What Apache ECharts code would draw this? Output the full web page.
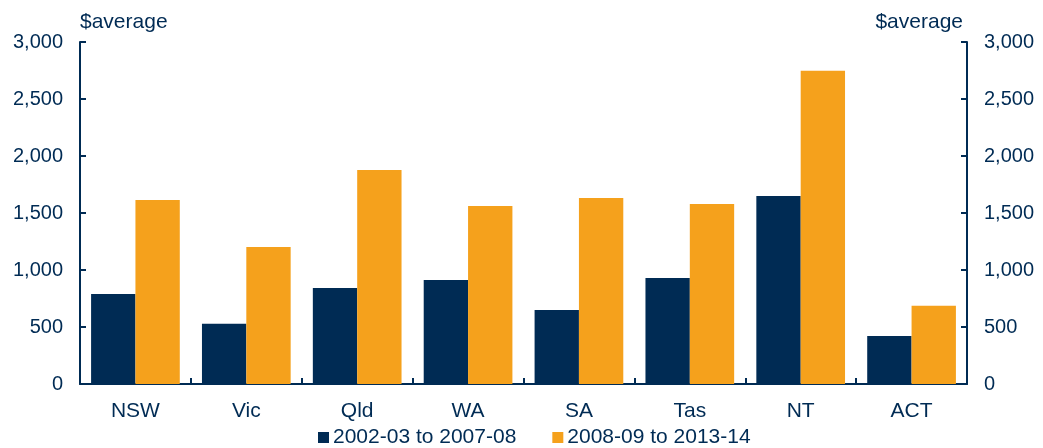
<!DOCTYPE html>
<html>
<head>
<meta charset="utf-8">
<script src="https://cdn.jsdelivr.net/npm/echarts@6/dist/echarts.min.js"></script>
<style>
  html, body { margin: 0; padding: 0; background: #fff; }
  #chart { width: 1043px; height: 448px; }
</style>
</head>
<body>
<div id="chart"></div>
<script>
// categories and series
var states = ['NSW', 'Vic', 'Qld', 'WA', 'SA', 'Tas', 'NT', 'ACT'];
var period1 = [790, 528, 842, 912, 650, 930, 1650, 422];
var period2 = [1615, 1202, 1877, 1562, 1632, 1580, 2748, 686];
var seriesNames = ['2002-03 to 2007-08', '2008-09 to 2013-14'];

var navy = '#002B54';
var orange = '#F5A11C';
var font = 'Liberation Sans, Arial, sans-serif';

var chart = echarts.init(document.getElementById('chart'));

function valueAxis (pos) {
    return {
        type: 'value',
        position: pos,
        min: 0,
        max: 3000,
        interval: 500,
        name: '$average',
        nameLocation: 'end',
        nameGap: 9,
        nameTextStyle: {
            color: navy,
            fontFamily: font,
            fontSize: 21,
            align: pos === 'left' ? 'left' : 'right',
            padding: pos === 'left' ? [0, 0, 0, 0] : [0, 4, 0, 0]
        },
        axisLine: { show: true, lineStyle: { color: navy, width: 2 } },
        axisTick: { show: true, inside: true, length: 6, lineStyle: { color: navy, width: 2 } },
        splitLine: { show: false },
        axisLabel: {
            color: navy,
            fontFamily: font,
            fontSize: 20,
            margin: 17,
            formatter: function (v) { return v.toLocaleString('en-US') }
        }
    }
}

chart.setOption({
    animation: false,
    backgroundColor: '#fff',
    grid: { left: 80, right: 76, top: 42, bottom: 64, containLabel: false },
    legend: {
        bottom: -5,
        left: 313,
        itemWidth: 11,
        itemHeight: 11,
        itemGap: 36,
        icon: 'rect',
        textStyle: { color: navy, fontFamily: font, fontSize: 21, padding: [0, 0, 0, -1] },
        data: seriesNames
    },
    xAxis: {
        type: 'category',
        data: states,
        axisLine: { lineStyle: { color: navy, width: 2 } },
        axisTick: { show: true, inside: true, length: 6, lineStyle: { color: navy, width: 2 } },
        axisLabel: { color: navy, fontFamily: font, fontSize: 21, margin: 17 }
    },
    yAxis: [valueAxis('left'), valueAxis('right')],
    series: [
        {
            name: seriesNames[0],
            type: 'bar',
            barGap: '0%',
            barCategoryGap: '20%',
            itemStyle: { color: navy },
            data: period1
        },
        {
            name: seriesNames[1],
            type: 'bar',
            barGap: '0%',
            barCategoryGap: '20%',
            itemStyle: { color: orange },
            data: period2
        }
    ]
});
</script>
</body>
</html>
